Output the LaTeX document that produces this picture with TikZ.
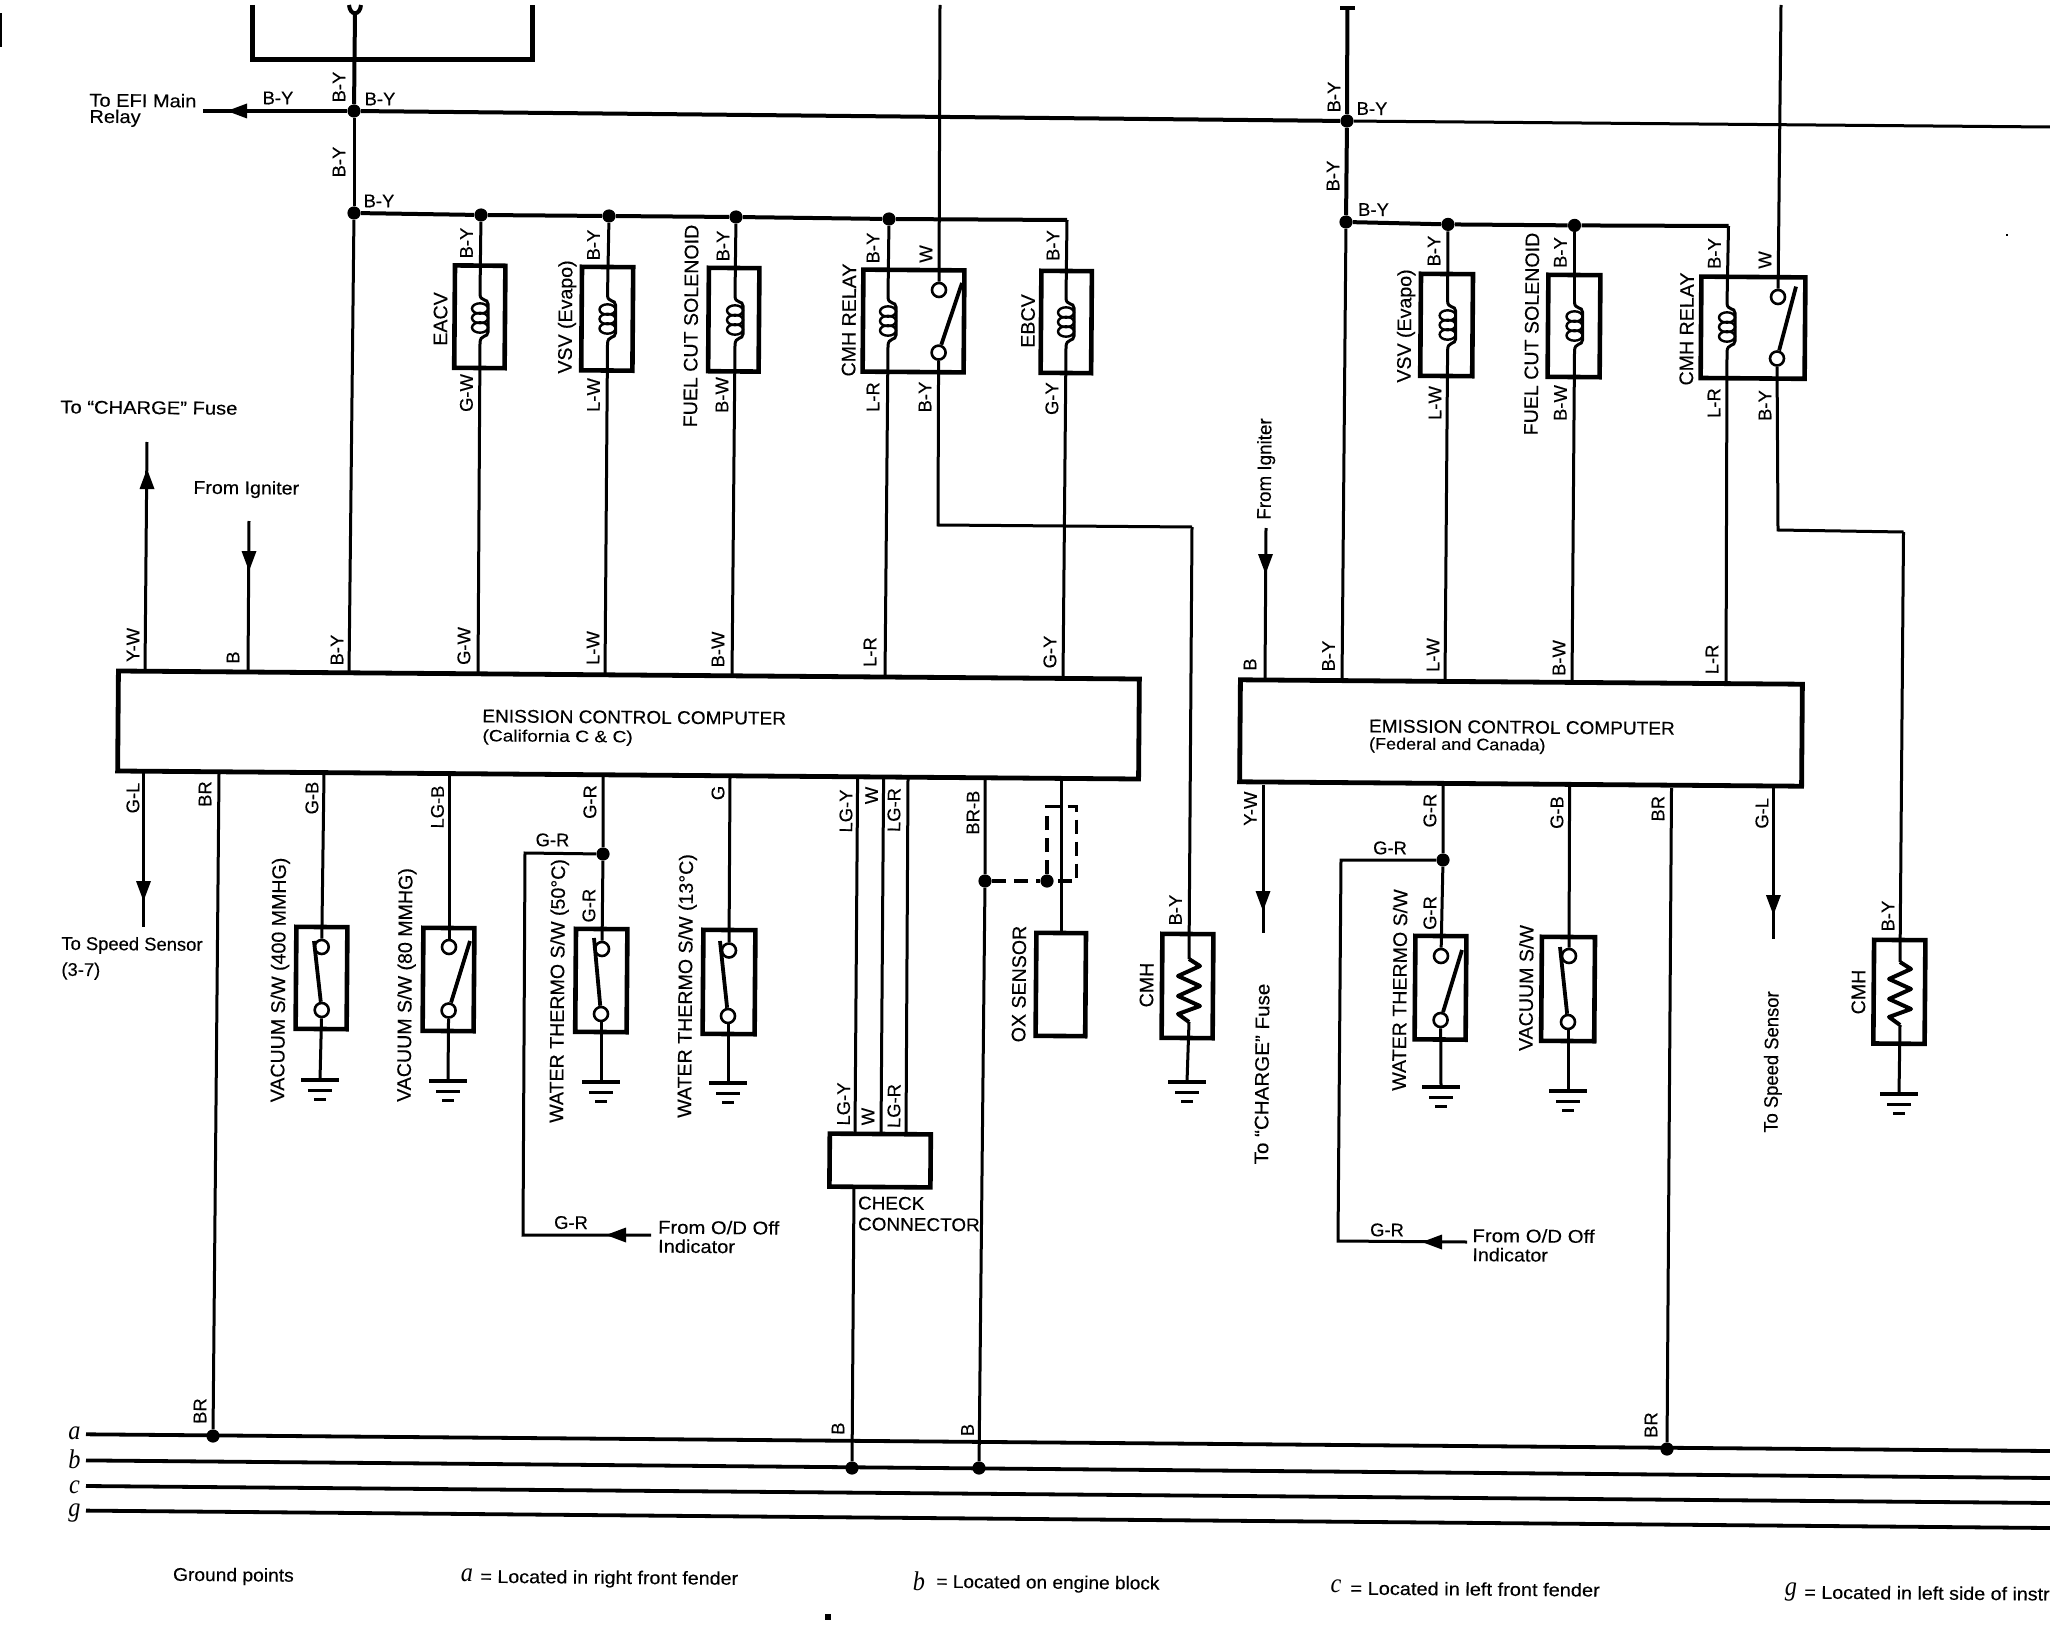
\documentclass[tikz,border=0pt]{standalone}
\usepackage{fontspec}
\setmainfont{Liberation Sans}[FakeBold=0.25]
\newfontfamily\busfont{Liberation Serif}
\newcounter{lbn}
\tikzset{
  wire/.style={line width=1.5pt,line join=miter},
  hwire/.style={line width=2pt,line join=miter},
  busline/.style={line width=1.9pt},
  boxline/.style={draw,line width=2.3pt,rectangle,inner sep=0pt,rotate=-0.45},
  dot/.style={circle,fill=black,inner sep=0pt,minimum width=5.6pt,minimum height=6.6pt},
  swc/.style={circle,draw,line width=1.3pt,inner sep=0pt,minimum size=7pt},
  wlab/.style={inner sep=0pt,font=\fontsize{9.2}{10}\selectfont},
  tlab/.style={inner sep=0pt,font=\fontsize{9.2}{10}\selectfont},
  nlab/.style={inner sep=0pt,font=\fontsize{9.8}{11}\selectfont},
}
% wire label, rotated
\newcommand{\vlab}[3]{\stepcounter{lbn}\node[wlab,rotate=89.55] (lb\arabic{lbn}) at (#1,#2) {#3};}
% wire label, level
\newcommand{\hlab}[3]{\stepcounter{lbn}\node[wlab,rotate=-0.45] (lb\arabic{lbn}) at (#1,#2) {#3};}
% component name, rotated
\newcommand{\vname}[4][]{\stepcounter{lbn}\node[nlab,rotate=89.55,#1] (lb\arabic{lbn}) at (#2,#3) {#4};}
% free text, anchored on the left
\newcommand{\htext}[4][]{\stepcounter{lbn}\node[tlab,anchor=west,rotate=-0.45,#1] (lb\arabic{lbn}) at (#2,#3) {#4};}
% bus letter
\newcommand{\busl}[3]{\stepcounter{lbn}\node[inner sep=0pt,font=\busfont\itshape\fontsize{13.5}{14}\selectfont,xscale=.9] (lb\arabic{lbn}) at (#1,#2) {#3};}
% box from corners
\newcommand{\cbox}[5]{\pgfmathsetmacro\bw{(#4-#2)*0.5}\pgfmathsetmacro\bh{(#5-#3)*0.5}%
  \node[boxline,minimum width=\bw pt,minimum height=\bh pt] (#1) at ({(#2+#4)/2},{(#3+#5)/2}) {};}
% coil with jog
\newcommand{\coil}[3]{\begin{scope}[shift={(#2,#3)}]
  \coordinate (#1 t) at (0,-24); \coordinate (#1 b) at (0,25);
  \draw[wire] (#1 t) .. controls (0,-16) and (8,-20) .. (8,-14) -- (8,14) .. controls (8,20) and (0,16) .. (#1 b);
  \foreach \cy in {-9.5,0,9.5} \draw[line width=1.2pt] (0,\cy) ellipse [x radius=4pt,y radius=2.6pt];
  \end{scope}}
% resistor
\newcommand{\resi}[3]{\begin{scope}[shift={(#2,#3)}]
  \coordinate (#1 t) at (0,-31); \coordinate (#1 b) at (0,32);
  \draw[line width=2pt,line join=round] (#1 t) -- (11,-24) -- (-11,-14) -- (11,-4) -- (-11,6) -- (11,16) -- (-11,24) -- (#1 b);
  \end{scope}}
% switch: top contact, bottom contact, free blade end
\newcommand{\sw}[7]{\node[swc] (#1 t) at (#2,#3) {}; \node[swc] (#1 b) at (#4,#5) {};
  \draw[line width=1.9pt] (#1 b) -- (#6,#7);}
% earth
\newcommand{\gnd}[3]{\coordinate (#1) at (#2,#3); \begin{scope}[shift={(#2,#3)}]
  \draw[line width=2pt] (-19,0) -- (19,0);
  \draw[line width=1.5pt] (-12,10) -- (12,10);
  \draw[line width=1.5pt] (-6,19) -- (6,19);
  \end{scope}}
% arrow head on a wire: centre, direction
\newcommand{\wtip}[4]{\fill ({#1+11*#3},{#2+11*#4}) -- ({#1-9*#3+7.5*#4},{#2-9*#4+7.5*#3}) -- ({#1-9*#3-7.5*#4},{#2-9*#4-7.5*#3}) -- cycle;}
\begin{document}
\begin{tikzpicture}[x=0.5pt,y=-0.5pt]
\useasboundingbox (0,0) rectangle (2050,1648);
\clip (0,0) rectangle (2050,1648);

% specks of the print
\fill (0,13) rectangle (2,47);
\fill (825,1614) rectangle (831,1620);
\fill (2006,234.5) rectangle (2008,236);

%% ---------- top box and main feed
\coordinate (tbA) at (252,5); \coordinate (tbB) at (252,60); \coordinate (tbC) at (532,60); \coordinate (tbD) at (532,5);
\draw[line width=2.5pt,line join=miter] (tbA) -- (tbB) -- (tbC) -- (tbD);
\draw[line width=2pt] (349,5) .. controls (350,16) and (360,16) .. (361,5);
\node[dot] (j1) at (354,111) {};
\node[dot] (j2) at (354,213) {};
\node[dot] (j3) at (1347,121) {};
\node[dot] (j4) at (1346,222) {};
\coordinate (ft) at (355,12); \coordinate (efi) at (203,111); \coordinate (eR) at (2050,127);
\draw[hwire] (ft) -- (j1); \draw[wire] (j1) -- (j2);
\draw[hwire] (efi) -- (j1); \draw[hwire] (j1) -- (j3); \draw[wire] (j3) -- (eR);
\wtip{238}{111}{-1}{0}

%% ---------- left computer
\node[draw,line width=2.4pt,rectangle,inner sep=0pt,rotate=-0.45,minimum width=510.5pt,minimum height=50pt] (comp1) at (628.5,725) {};
\htext[xscale=1.035]{482}{716}{ENISSION CONTROL COMPUTER}
\htext[font=\fontsize{8.2}{9}\selectfont,xscale=1.17]{482}{737}{(California C \& C)}

%% upper row, left
\node[dot] (ja) at (481,215) {};
\node[dot] (jb) at (609,216) {};
\node[dot] (jc) at (736,217) {};
\node[dot] (jd) at (889,219) {};
\coordinate (busE) at (1067,220);
\draw[hwire] (j2) -- (ja) -- (jb) -- (jc) -- (jd) -- (busE);
\cbox{eacv}{454.6}{265.6}{505}{368}
\cbox{vsvA}{581.6}{267}{632.8}{370.5}
\cbox{fuelA}{708.5}{268}{759}{371.4}
\cbox{relA}{863}{270}{964}{372}
\cbox{ebcv}{1041}{271}{1091.5}{373}
\coil{cE}{480}{318}
\coil{cV}{607.5}{319}
\coil{cF}{735}{320}
\coil{cR}{888}{321}
\coil{cB}{1066}{322}
\draw[wire] (ja) -- (cE t);
\draw[wire] (jb) -- (cV t);
\draw[wire] (jc) -- (cF t);
\draw[wire] (jd) -- (cR t);
\draw[wire] (busE) -- (cB t);
\coordinate (c1yw) at (145,672); \coordinate (c1b) at (248,673); \coordinate (c1by) at (349,674);
\coordinate (c1gw) at (478,675); \coordinate (c1lw) at (605,676); \coordinate (c1bw) at (732,677);
\coordinate (c1lr) at (885,678); \coordinate (c1gy) at (1063,679);
\draw[wire] (j2) -- (c1by);
\draw[wire] (cE b) -- (c1gw);
\draw[wire] (cV b) -- (c1lw);
\draw[wire] (cF b) -- (c1bw);
\draw[wire] (cR b) -- (c1lr);
\draw[wire] (cB b) -- (c1gy);
\sw{sR}{939}{290}{938.6}{352.6}{962}{283}
\coordinate (wL) at (940,5); \coordinate (kL1) at (938,525); \coordinate (kL2) at (1192,527);
\draw[wire] (wL) -- (sR t);
\draw[wire] (sR b) -- (kL1) -- (kL2);
\coordinate (yw1) at (147,442); \coordinate (bI1) at (249,521);
\draw[wire] (yw1) -- (c1yw);
\draw[wire] (bI1) -- (c1b);
\wtip{147}{480}{0}{-1}
\wtip{249}{560}{0}{1}

%% lower row, left
\coordinate (c1gl) at (143.5,773); \coordinate (gl1) at (143.5,927);
\draw[wire] (c1gl) -- (gl1); \wtip{143.5}{890}{0}{1}
\coordinate (c1br) at (219,774); \node[dot] (ax1) at (213,1436) {};
\draw[wire] (c1br) -- (ax1);
% vacuum 400
\cbox{vacA}{296}{927}{347}{1029}
\sw{s1}{321.7}{947}{321.7}{1010}{314}{941}
\coordinate (c1gb) at (324,774);
\gnd{g1}{320}{1080}
\draw[wire] (c1gb) -- (s1 t); \draw[wire] (s1 b) -- (g1);
% vacuum 80
\cbox{vacB}{423}{928}{474}{1031}
\sw{s2}{449}{947}{448.6}{1010.5}{470}{941}
\coordinate (c1lb) at (449,775);
\gnd{g2}{448}{1081}
\draw[wire] (c1lb) -- (s2 t); \draw[wire] (s2 b) -- (g2);
% water thermo 50
\cbox{wtA}{575.6}{929}{627}{1032}
\sw{s3}{602}{949}{601}{1014}{594}{938}
\coordinate (c1gr) at (603,776); \node[dot] (j5) at (603,854) {};
\gnd{g3}{601}{1082}
\draw[wire] (c1gr) -- (j5) -- (s3 t); \draw[wire] (s3 b) -- (g3);
\coordinate (o1) at (525,853); \coordinate (o2) at (523,1235); \coordinate (o3) at (651,1235);
\draw[wire] (j5) -- (o1) -- (o2) -- (o3);
\wtip{617}{1235}{-1}{0}
% water thermo 13
\cbox{wtB}{703}{930}{755}{1034}
\sw{s4}{729}{950.5}{728}{1016}{720}{941}
\coordinate (c1g) at (730,777);
\gnd{g4}{728}{1083}
\draw[wire] (c1g) -- (s4 t); \draw[wire] (s4 b) -- (g4);
% check connector
\cbox{chk}{829.6}{1134}{930.6}{1187}
\coordinate (ly) at (857.6,778); \coordinate (wh) at (883.6,778); \coordinate (lr) at (908,779);
\coordinate (lyb) at (855,1134); \coordinate (whb) at (881,1134); \coordinate (lrb) at (906,1135);
\draw[wire] (ly) -- (lyb); \draw[wire] (wh) -- (whb); \draw[wire] (lr) -- (lrb);
\coordinate (chkb) at (854,1187); \node[dot] (bx1) at (852,1468) {};
\draw[wire] (chkb) -- (bx1);
% BR-B and OX sensor
\coordinate (brb) at (985,779); \node[dot] (j6) at (985,881) {}; \node[dot] (bx2) at (979,1468) {};
\draw[wire] (brb) -- (j6) -- (bx2);
\node[dot] (j7) at (1047,881) {};
\coordinate (d1) at (1076.5,881); \coordinate (d2) at (1076.5,806.5); \coordinate (d3) at (1047,806.5);
\draw[line width=1.7pt,dash pattern=on 7pt off 4pt] (j6) -- (j7);
\draw[line width=1.7pt,dash pattern=on 7pt off 4pt] (j7) -- (d3) -- (d2) -- (d1) -- (j7);
\cbox{ox}{1036}{933}{1085.6}{1036}
\coordinate (oxw) at (1061,780); \coordinate (oxt) at (1061,933);
\draw[wire] (oxw) -- (oxt);
% CMH left
\cbox{cmhA}{1162}{934}{1213}{1038}
\resi{rA}{1189}{990}
\gnd{g5}{1187}{1082}
\draw[wire] (kL2) -- (rA t); \draw[wire] (rA b) -- (g5);

%% ---------- right computer
\node[draw,line width=2.4pt,rectangle,inner sep=0pt,rotate=-0.45,minimum width=281pt,minimum height=51pt] (comp2) at (1521,733) {};
\htext[xscale=1.035]{1368.6}{726}{EMISSION CONTROL COMPUTER}
\htext[font=\fontsize{8.2}{9}\selectfont,xscale=1.1]{1368.6}{745}{(Federal and Canada)}

%% upper row, right
\coordinate (tR) at (1347.4,7.6); \coordinate (tRa) at (1340,7.6); \coordinate (tRb) at (1355,7.6);
\draw[line width=2pt] (tRa) -- (tRb);
\draw[hwire] (tR) -- (j3); \draw[hwire] (j3) -- (j4);
\coordinate (c2by) at (1342,681); \draw[wire] (j4) -- (c2by);
\node[dot] (je) at (1448,224.4) {};
\node[dot] (jf) at (1574.5,225.4) {};
\coordinate (bus2E) at (1728.5,226);
\draw[hwire] (j4) -- (je) -- (jf) -- (bus2E);
\cbox{vsvB}{1420.6}{274}{1472.6}{376}
\cbox{fuelB}{1548}{275}{1600}{377}
\cbox{relB}{1701}{277}{1805}{378.4}
\coil{dV}{1447.6}{325}
\coil{dF}{1574.5}{326}
\coil{dR}{1727}{327}
\draw[wire] (je) -- (dV t);
\draw[wire] (jf) -- (dF t);
\draw[wire] (bus2E) -- (dR t);
\coordinate (c2lw) at (1445,682); \coordinate (c2bw) at (1572,683); \coordinate (c2lr) at (1726,684);
\draw[wire] (dV b) -- (c2lw);
\draw[wire] (dF b) -- (c2bw);
\draw[wire] (dR b) -- (c2lr);
\sw{sQ}{1778}{297}{1777}{358.5}{1796}{286.6}
\coordinate (wR) at (1781,5); \coordinate (kR1) at (1778,530); \coordinate (kR2) at (1903.5,532);
\draw[wire] (wR) -- (sQ t);
\draw[wire] (sQ b) -- (kR1) -- (kR2);
\coordinate (c2b) at (1265,680); \coordinate (bI2) at (1266,528);
\draw[wire] (bI2) -- (c2b); \wtip{1265.5}{563}{0}{1}

%% lower row, right
\coordinate (c2yw) at (1263,785); \coordinate (yw2) at (1263,933);
\draw[wire] (c2yw) -- (yw2); \wtip{1263}{900}{0}{1}
\coordinate (c2gr) at (1443,786); \node[dot] (j8) at (1443,860) {};
\cbox{wtC}{1415}{936}{1466}{1039.5}
\sw{s6}{1441}{956}{1440.6}{1020}{1462}{950}
\gnd{g6}{1441}{1087}
\draw[wire] (c2gr) -- (j8) -- (s6 t); \draw[wire] (s6 b) -- (g6);
\coordinate (p1) at (1341,860); \coordinate (p2) at (1338,1241); \coordinate (p3) at (1467,1242);
\draw[wire] (j8) -- (p1) -- (p2) -- (p3);
\wtip{1433}{1242}{-1}{0}
\coordinate (c2gb) at (1569.6,787);
\cbox{vacC}{1541.5}{937}{1594.6}{1041}
\sw{s7}{1569}{956}{1568}{1022}{1560}{947}
\gnd{g7}{1568}{1091}
\draw[wire] (c2gb) -- (s7 t); \draw[wire] (s7 b) -- (g7);
\coordinate (c2br) at (1671.5,788); \node[dot] (ax2) at (1667,1449) {};
\draw[wire] (c2br) -- (ax2);
\coordinate (c2gl) at (1773.4,788); \coordinate (gl2) at (1773.4,939);
\draw[wire] (c2gl) -- (gl2); \wtip{1773.4}{904}{0}{1}
\cbox{cmhB}{1873.7}{940}{1925}{1043.7}
\resi{rB}{1900}{993}
\gnd{g8}{1899}{1094}
\draw[wire] (kR2) -- (rB t); \draw[wire] (rB b) -- (g8);

%% ---------- ground bus lines
\coordinate (aL) at (86,1434.3); \coordinate (aR) at (2050,1451);
\coordinate (bL) at (86,1460.4); \coordinate (bR) at (2050,1478);
\coordinate (cL) at (86,1486);   \coordinate (cR) at (2050,1503);
\coordinate (gL) at (86,1510.6); \coordinate (gR) at (2050,1528);
\draw[busline] (aL) -- (aR); \draw[busline] (bL) -- (bR);
\draw[busline] (cL) -- (cR); \draw[busline] (gL) -- (gR);
\busl{74.5}{1433}{a} \busl{74.5}{1459}{b} \busl{74.5}{1487}{c} \busl{74.5}{1513}{g}

%% ---------- wire labels
\vlab{339}{87}{B-Y} \hlab{278}{98}{B-Y} \hlab{380}{99}{B-Y} \vlab{339}{162}{B-Y} \hlab{379}{201}{B-Y}
\vlab{466.5}{243}{B-Y} \vlab{593.5}{245}{B-Y} \vlab{723}{246}{B-Y} \vlab{873}{248}{B-Y} \vlab{926}{254}{W} \vlab{1053}{245.5}{B-Y}
\vlab{466.5}{393}{G-W} \vlab{593.5}{395}{L-W} \vlab{722}{395}{B-W} \vlab{873}{397}{L-R} \vlab{925}{397}{B-Y} \vlab{1052}{398.6}{G-Y}
\vlab{133}{645}{Y-W} \vlab{233}{657.5}{B} \vlab{337}{650}{B-Y} \vlab{464}{646}{G-W} \vlab{593}{648}{L-W} \vlab{718}{649.5}{B-W} \vlab{870}{652}{L-R} \vlab{1050}{652}{G-Y}
\vlab{133}{798}{G-L} \vlab{205}{794}{BR} \vlab{312}{798}{G-B} \vlab{437.5}{807}{LG-B} \vlab{590}{802}{G-R} \vlab{718}{793}{G}
\vlab{846}{811}{LG-Y} \vlab{871.6}{795.5}{W} \vlab{894}{810}{LG-R} \vlab{973}{812.6}{BR-B}
\hlab{552.5}{840}{G-R} \vlab{589}{905.6}{G-R} \vlab{1175.5}{910}{B-Y}
\vlab{843.6}{1104}{LG-Y} \vlab{868}{1116.6}{W} \vlab{894}{1106}{LG-R} \hlab{571}{1222.6}{G-R}
\vlab{1334}{97}{B-Y} \hlab{1372}{108.6}{B-Y} \vlab{1333}{176}{B-Y} \hlab{1373.5}{209.6}{B-Y}
\vlab{1434}{251}{B-Y} \vlab{1560.4}{252.5}{B-Y} \vlab{1714.4}{253.5}{B-Y} \vlab{1765}{260}{W}
\vlab{1435}{403}{L-W} \vlab{1560.4}{403}{B-W} \vlab{1714}{403}{L-R} \vlab{1765}{405.5}{B-Y}
\vlab{1250}{664.5}{B} \vlab{1328.5}{656}{B-Y} \vlab{1433}{655}{L-W} \vlab{1559}{658}{B-W} \vlab{1712}{659.4}{L-R}
\vlab{1250.4}{808.7}{Y-W} \vlab{1430}{810.6}{G-R} \vlab{1557}{812.5}{G-B} \vlab{1658}{808.7}{BR} \vlab{1762}{813.3}{G-L}
\hlab{1390}{848}{G-R} \vlab{1430}{913}{G-R} \vlab{1888}{916}{B-Y} \hlab{1387}{1230}{G-R}
\vlab{200}{1411}{BR} \vlab{838}{1428.6}{B} \vlab{967.5}{1430}{B} \vlab{1651}{1425}{BR}

%% ---------- component names
\vname{440.5}{319}{EACV}
\vname{567}{317}{VSV (Evapo)}
\vname{691}{326}{FUEL CUT SOLENOID}
\vname{849}{320}{CMH RELAY}
\vname{1028}{321}{EBCV}
\vname{280}{980}{VACUUM S/W (400 MMHG)}
\vname{406.5}{985}{VACUUM S/W (80 MMHG)}
\vname{559}{991}{WATER THERMO S/W (50°C)}
\vname{687}{986}{WATER THERMO S/W (13°C)}
\vname{1019}{984}{OX SENSOR}
\vname{1146.6}{985}{CMH}
\vname{1406}{326}{VSV (Evapo)}
\vname{1531.7}{334}{FUEL CUT SOLENOID}
\vname{1686.7}{329}{CMH RELAY}
\vname{1399.5}{990}{WATER THERMO S/W}
\vname{1526}{988}{VACUUM S/W}
\vname{1858.5}{992}{CMH}
\vname[xscale=.96]{1266}{469}{From Igniter}
\vname[xscale=1.05]{1262}{1074}{To “CHARGE” Fuse}
\vname[xscale=.94]{1773}{1062}{To Speed Sensor}

%% ---------- free text
\htext[xscale=1.09]{89}{100}{To EFI Main} \htext[xscale=1.09]{89}{118}{Relay}
\htext[xscale=1.096]{60}{407}{To “CHARGE” Fuse}
\htext[xscale=1.066]{193}{489}{From Igniter}
\htext{61}{945}{To Speed Sensor} \htext{61}{971}{(3-7)}
\htext[xscale=1.1]{657.7}{1227}{From O/D Off} \htext[xscale=1.09]{657.7}{1246}{Indicator}
\htext[xscale=1.03]{857.6}{1203}{CHECK} \htext[xscale=1.03]{857.6}{1224}{CONNECTOR}
\htext[xscale=1.11]{1472}{1235.4}{From O/D Off} \htext[xscale=1.07]{1472}{1254.5}{Indicator}
\htext[xscale=1.045]{172.6}{1576}{Ground points}
\busl{467}{1575}{a} \htext[xscale=1.07]{480}{1578}{= Located in right front fender}
\busl{919}{1581}{b} \htext[xscale=1.036]{936}{1583}{= Located on engine block}
\busl{1336}{1586}{c} \htext[xscale=1.086]{1350}{1588}{= Located in left front fender}
\busl{1791}{1592}{g} \htext[xscale=1.068]{1804}{1592}{= Located in left side of instr}
\end{tikzpicture}
\end{document}
